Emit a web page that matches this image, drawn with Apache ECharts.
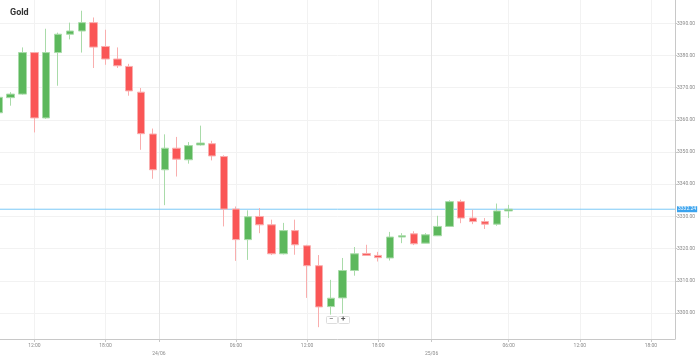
<!DOCTYPE html>
<html>
<head>
<meta charset="utf-8">
<script src="https://cdn.jsdelivr.net/npm/echarts@6/dist/echarts.min.js"></script>
<style>
html,body{margin:0;padding:0;background:#fff;}
#chart{width:699px;height:358px;}
</style>
</head>
<body>
<div id="chart"></div>
<script>
// hourly candle index (0 = first visible candle)
const candleIndex = [0,1,2,3,4,5,6,7,8,9,10,11,12,13,14,15,16,17,18,19,20,21,22,23,24,25,26,27,28,29,30,31,32,33,34,35,36,37,38,39,40,41,42,43];
const openVals  = [3362.2,3366.9,3368.0,3380.9,3360.6,3380.9,3386.6,3387.6,3390.2,3382.8,3378.9,3376.6,3368.6,3355.6,3344.5,3351.2,3347.6,3352.2,3352.6,3348.6,3332.3,3322.8,3330.0,3327.4,3318.4,3325.6,3320.9,3314.7,3302.0,3304.7,3313.2,3318.5,3317.9,3317.1,3323.6,3324.6,3321.7,3324.0,3326.9,3334.6,3329.5,3328.4,3327.6,3331.7];
const closeVals = [3367.0,3368.0,3380.9,3360.6,3380.9,3386.6,3387.6,3390.2,3382.6,3378.9,3376.8,3369.0,3355.7,3344.5,3351.2,3347.8,3352.0,3352.8,3348.8,3332.3,3322.8,3329.9,3327.4,3318.4,3325.6,3321.2,3314.7,3301.9,3304.6,3313.2,3318.4,3317.9,3317.2,3323.6,3324.0,3321.5,3324.3,3326.9,3334.6,3329.5,3328.4,3327.6,3331.7,3332.24];
const lowVals   = [3361.5,3364.4,3367.8,3356.1,3360.3,3370.6,3385.0,3380.9,3376.1,3377.1,3376.1,3367.5,3350.7,3341.7,3333.5,3342.4,3346.4,3352.0,3347.4,3326.9,3316.2,3316.5,3324.8,3318.0,3318.2,3318.1,3304.7,3295.6,3299.5,3299.8,3311.6,3317.8,3316.0,3316.3,3321.7,3321.1,3321.7,3323.9,3326.7,3327.9,3327.6,3326.1,3327.1,3329.5];
const highVals  = [3367.5,3368.6,3382.5,3381.0,3388.3,3387.1,3390.2,3393.9,3391.8,3388.0,3382.5,3377.4,3369.9,3357.3,3355.5,3354.7,3353.1,3358.2,3353.5,3349.0,3333.1,3331.9,3332.6,3329.0,3328.0,3329.0,3321.2,3318.0,3310.3,3317.1,3320.5,3321.2,3319.0,3325.2,3324.8,3325.4,3324.8,3330.2,3335.0,3335.2,3332.1,3329.5,3334.0,3333.6];
const currentPrice = 3332.24;

// x-axis range and tick labels with the candle positions they sit at
const xMin = 0.1;
const xMax = 57.03;
const xTickPositions = [3, 9, 13.5, 20, 26, 32, 36.5, 43, 49, 55];
const xTickLabels = ['12:00','18:00','24/06','06:00','12:00','18:00','25/06','06:00','12:00','18:00'];
const xTickIsDate = [false,false,true,false,false,false,true,false,false,false];

// y-axis tick labels
const yTickValues = [3300,3310,3320,3330,3340,3350,3360,3370,3380,3390];

const candleData = candleIndex.map((x, i) => [x, openVals[i], closeVals[i], lowVals[i], highVals[i]]);

const chart = echarts.init(document.getElementById('chart'), null, {renderer: 'canvas'});
const labelFont = 'Roboto, "Liberation Sans", sans-serif';

chart.setOption({
  animation: false,
  backgroundColor: '#ffffff',
  title: {
    text: 'Gold',
    left: 5,
    top: 3,
    textStyle: {fontSize: 9, fontWeight: 'bold', color: '#333', fontFamily: labelFont}
  },
  grid: {left: 0, right: 24, top: 0, bottom: 19, containLabel: false},
  xAxis: {
    type: 'value',
    min: xMin,
    max: xMax,
    axisLine: {show: true, lineStyle: {color: '#c8c8c8', width: 1}},
    axisTick: {show: true, length: 3, customValues: xTickPositions, lineStyle: {color: '#c8c8c8'}},
    axisLabel: {
      show: true,
      customValues: xTickPositions,
      fontSize: 5,
      lineHeight: 8,
      margin: 3,
      color: '#8a8a8a',
      fontFamily: labelFont,
      formatter: function (v) {
        let k = -1;
        for (let i = 0; i < xTickPositions.length; i++) { if (Math.abs(xTickPositions[i] - v) < 1e-6) k = i; }
        if (k < 0) return '';
        return xTickIsDate[k] ? '\n' + xTickLabels[k] : xTickLabels[k];
      }
    },
    splitLine: {show: true, lineStyle: {color: xTickIsDate.map(d => d ? '#e6e6e6' : '#f2f2f2'), width: 1}}
  },
  yAxis: {
    type: 'value',
    position: 'right',
    min: 3291.93,
    max: 3397.23,
    scale: true,
    axisLine: {show: true, lineStyle: {color: '#c8c8c8', width: 1}},
    axisTick: {show: true, length: 2, customValues: yTickValues, lineStyle: {color: '#c8c8c8'}},
    axisLabel: {
      show: true,
      customValues: yTickValues,
      fontSize: 5,
      margin: 2,
      color: '#8a8a8a',
      fontFamily: labelFont,
      formatter: v => v.toFixed(2)
    },
    splitLine: {show: true, lineStyle: {color: '#f2f2f2', width: 1}}
  },
  series: [{
    type: 'line',
    data: [[xMin, currentPrice], [xMax, currentPrice]],
    symbol: 'none',
    silent: true,
    z: 1,
    lineStyle: {color: '#7ccaf7', width: 1, type: 'solid'},
    itemStyle: {color: '#7ccaf7'},
    emphasis: {disabled: true},
    endLabel: {
      show: true,
      distance: 2,
      formatter: () => currentPrice.toFixed(2),
      backgroundColor: '#3aa3ee',
      color: '#ffffff',
      fontSize: 5,
      padding: [1, 1, 0, 1],
      fontFamily: labelFont
    }
  }, {
    type: 'candlestick',
    data: candleData,
    barWidth: 8,
    z: 2,
    itemStyle: {
      color: '#5cb85c',
      borderColor: '#a9dba9',
      color0: '#fa5656',
      borderColor0: '#f9aeae',
      borderWidth: 1
    }
  }],
  graphic: [
    {type: 'rect', left: 326, top: 316, shape: {width: 11, height: 7, r: 1}, style: {fill: '#fff', stroke: '#dddddd', lineWidth: 1}},
    {type: 'rect', left: 338, top: 316, shape: {width: 11, height: 7, r: 1}, style: {fill: '#fff', stroke: '#dddddd', lineWidth: 1}},
    {type: 'text', left: 329, top: 315, style: {text: '−', fontSize: 8, fill: '#555', fontFamily: labelFont}},
    {type: 'text', left: 341, top: 315, style: {text: '+', fontSize: 8, fontWeight: 'bold', fill: '#555', fontFamily: labelFont}}
  ]
});
</script>
</body>
</html>
